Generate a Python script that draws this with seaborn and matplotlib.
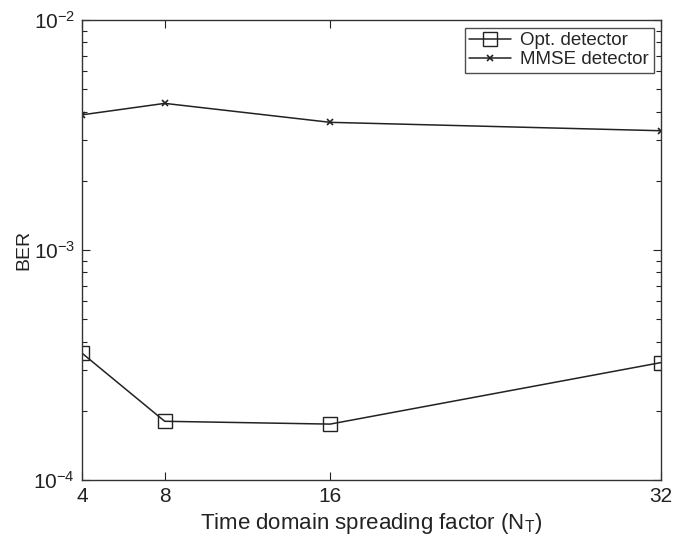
import matplotlib
matplotlib.use("Agg")
import matplotlib.pyplot as plt
import seaborn as sns
import pandas as pd
from matplotlib.ticker import LogLocator, FixedLocator, NullFormatter

sns.set_theme(style="white")
plt.rcParams['font.family'] = ['Liberation Sans', 'DejaVu Sans']
plt.rcParams['mathtext.fontset'] = 'custom'
plt.rcParams['mathtext.rm'] = 'Liberation Sans'
plt.rcParams['mathtext.it'] = 'Liberation Sans:italic'

spreading = [4, 8, 16, 32]
opt_ber = [3.56e-4, 1.80e-4, 1.75e-4, 3.24e-4]
mmse_ber = [3.87e-3, 4.34e-3, 3.59e-3, 3.30e-3]
xticks = [4, 8, 16, 32]

df_opt = pd.DataFrame({"N": spreading, "BER": opt_ber})
df_mmse = pd.DataFrame({"N": spreading, "BER": mmse_ber})

fig = plt.figure(figsize=(6.88, 5.38), dpi=100)
ax = fig.add_axes([82/688, 58/538, (661-82)/688, (480-20)/538])

sns.lineplot(data=df_opt, x="N", y="BER", ax=ax, color="#222222", lw=1.1,
             marker="s", markersize=9.5, markerfacecolor="none",
             markeredgecolor="#222222", markeredgewidth=1.0,
             label="Opt. detector")
sns.lineplot(data=df_mmse, x="N", y="BER", ax=ax, color="#222222", lw=1.1,
             marker="x", markersize=5, markeredgecolor="#222222",
             markeredgewidth=1.2, label="MMSE detector")

ax.set_yscale("log")
ax.set_xlim(4, 32)
ax.set_ylim(1e-4, 1e-2)
ax.xaxis.set_major_locator(FixedLocator(xticks))
ax.set_xticklabels([str(t) for t in xticks])
ax.yaxis.set_major_locator(LogLocator(base=10, numticks=5))
ax.yaxis.set_minor_locator(LogLocator(base=10, subs=range(2, 10), numticks=20))
ax.yaxis.set_minor_formatter(NullFormatter())

ax.tick_params(axis="both", which="both", direction="in", top=True, right=True,
               left=True, bottom=True, labelsize=15, colors="#222222", width=0.8)
ax.tick_params(which="major", length=6, pad=5)
ax.tick_params(which="minor", length=3.5)
for s in ax.spines.values():
    s.set_color("#333333")
    s.set_linewidth(1.0)
    s.set_visible(True)

ax.set_xlabel("Time domain spreading factor (N$_\\mathrm{T}$)", fontsize=16, color="#222222", labelpad=4)
ax.set_ylabel("BER", fontsize=14, color="#222222")
ax.yaxis.set_label_coords(-0.086, 0.5)

leg = ax.legend(loc="upper right", fontsize=13.5, frameon=True, fancybox=False,
                edgecolor="#222222", borderpad=0.25, handlelength=2.2,
                handletextpad=0.5, labelspacing=0.1, borderaxespad=0.4)
leg.get_frame().set_linewidth(1.0)

fig.savefig("out.png", dpi=100)
